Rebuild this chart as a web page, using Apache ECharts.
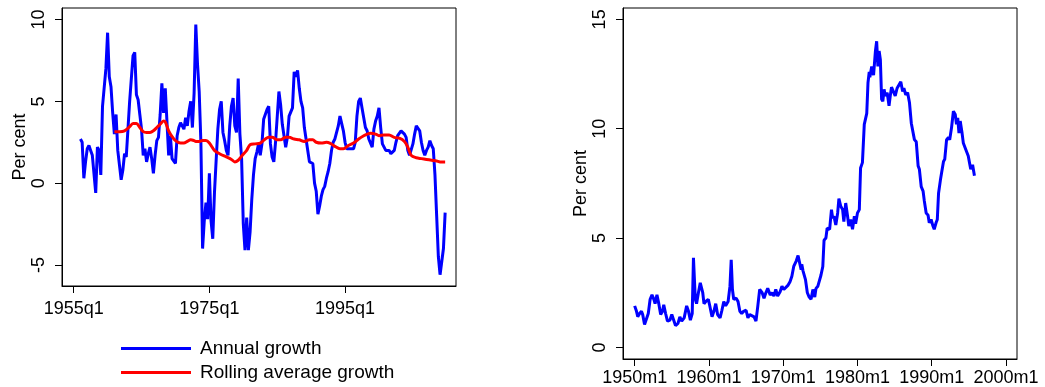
<!DOCTYPE html>
<html lang="en">
<head>
    <title>Growth and rates</title>
    <meta charset="utf-8" />
    <script src="https://cdn.jsdelivr.net/npm/echarts@6/dist/echarts.min.js"></script>
    <style>
        body {
            margin: 0;
            background-color: #ffffff;
        }

        #main {
            width: 1045px;
            height: 387px;
        }
    </style>
</head>
<body>
<div id="main"></div>
<script type="text/javascript">
    // left panel: annual growth, quarterly from 1956q1
    let growthStart = 1956
    let growthValues = [
        2.7, 2.5, 0.3, 1.3, 2.1, 2.3, 2.0, 1.7, 1.7, -0.6,
        2.2, 2.0, 0.5, 4.7, 4.7, 7.0, 9.2, 6.5, 5.9, 4.3,
        3.0, 4.2, 2.0, 1.1, 0.2, 0.8, 1.8, 1.6, 1.6, 5.0,
        5.1, 7.8, 8.0, 5.4, 5.1, 4.2, 3.3, 1.7, 2.1, 1.3,
        1.8, 2.2, 1.5, 0.6, 1.7, 2.6, 2.8, 4.2, 6.1, 4.3,
        5.8, 5.7, 1.7, 2.9, 1.5, 1.5, 1.2, 2.9, 3.4, 3.7,
        3.8, 3.3, 4.0, 3.5, 4.4, 5.0, 3.4, 5.5, 9.7, 7.3,
        5.6, 2.5, -4.0, -2.3, -1.2, -2.2, 0.6, -2.3, -3.4, -0.6,
        1.4, 3.3, 4.5, 5.0, 3.1, 2.6, 2.0, 1.7, 3.5, 4.7,
        5.2, 3.5, 3.1, 6.4, 3.0, 1.5, -2.5, -4.1, -2.1, -4.1,
        -3.0, -1.0, 0.5, 1.5, 1.9, 2.4, 1.7, 2.4, 3.9, 3.9,
        4.5, 4.7, 2.4, 1.6, 1.3, 2.5, 2.6, 5.6, 4.8, 3.6,
        3.5, 2.2, 2.8, 4.1, 4.1, 4.6, 6.8, 6.5, 6.9, 5.8,
        5.0, 4.6, 3.4, 3.3, 2.0, 1.3, 1.4, 1.2, 0.0, -0.5,
        -1.9, -1.4, -0.8, -0.4, -0.2, 0.3, 0.7, 1.2, 2.0, 2.5,
        2.7, 2.8, 3.5, 4.1, 4.0, 3.2, 2.5, 2.1, 2.0, 2.1,
        2.0, 2.1, 2.5, 4.1, 5.0, 5.2, 4.6, 4.0, 3.4, 3.2,
        2.7, 2.6, 2.2, 3.3, 3.8, 4.1, 4.6, 3.4, 2.4, 2.2,
        2.0, 2.0, 2.0, 1.8, 1.8, 2.0, 2.5, 2.9, 3.0, 3.2,
        3.1, 3.0, 2.8, 2.0, 1.7, 1.7, 2.4, 3.0, 3.5, 3.6,
        3.2, 2.5, 2.0, 1.7, 2.0, 2.2, 2.6, 2.3, 2.1, 0.5,
        -2.0, -4.5, -5.6, -5.5, -4.0, -1.8
    ]

    // left panel: rolling average growth
    let rollDates = [
        1961.0, 1961.75, 1962.5, 1963.25, 1963.75, 1964.25, 1964.75, 1965.25, 1965.75, 1966.25,
        1966.75, 1967.25, 1967.75, 1968.25, 1968.5, 1969.0, 1969.5, 1970.0, 1970.75, 1971.25,
        1971.75, 1972.25, 1972.75, 1973.0, 1973.5, 1974.0, 1974.5, 1975.0, 1975.75, 1976.5,
        1977.5, 1978.25, 1978.75, 1979.25, 1979.75, 1980.5, 1981.0, 1981.75, 1982.5, 1983.25,
        1983.75, 1984.25, 1985.0, 1985.5, 1986.25, 1986.75, 1987.5, 1988.25, 1989.0, 1989.75,
        1990.25, 1990.75, 1991.5, 1992.25, 1992.75, 1993.5, 1994.25, 1994.75, 1995.5, 1996.25,
        1997.0, 1997.75, 1998.25, 1998.75, 1999.5, 2000.0, 2000.75, 2001.5, 2002.25, 2003.0,
        2003.75, 2004.25, 2004.75, 2005.5, 2006.25, 2007.0, 2007.75, 2008.5, 2009.0, 2009.75
    ]
    let rollValues = [
        3.15, 3.15, 3.2, 3.45, 3.65, 3.65, 3.4, 3.15, 3.1, 3.1,
        3.2, 3.4, 3.6, 3.8, 3.75, 3.2, 2.85, 2.6, 2.45, 2.45,
        2.55, 2.65, 2.6, 2.55, 2.55, 2.6, 2.6, 2.45, 2.0, 1.8,
        1.6, 1.45, 1.3, 1.4, 1.65, 2.0, 2.35, 2.4, 2.45, 2.7,
        2.8, 2.8, 2.65, 2.65, 2.8, 2.8, 2.7, 2.65, 2.55, 2.65,
        2.65, 2.5, 2.45, 2.5, 2.45, 2.25, 2.1, 2.1, 2.3, 2.45,
        2.7, 2.9, 3.0, 3.05, 3.0, 2.9, 2.95, 2.95, 2.8, 2.75,
        2.55, 2.2, 1.7, 1.55, 1.5, 1.45, 1.4, 1.35, 1.3, 1.3
    ]

    // right panel: monthly series, months counted from 1950m1
    let rateMonths = [
        0, 3, 5, 8, 11, 13, 16, 19, 22, 25,
        28, 31, 33, 36, 39, 42, 45, 47, 50, 53,
        57, 60, 63, 66, 70, 73, 76, 80, 84, 87,
        90, 93, 95, 98, 100, 103, 106, 110, 112, 115,
        119, 121, 125, 128, 131, 134, 138, 141, 144, 147,
        151, 154, 156, 158, 160, 164, 167, 170, 173, 176,
        180, 183, 186, 189, 193, 196, 199, 202, 206, 209,
        212, 215, 219, 222, 225, 228, 231, 235, 238, 241,
        244, 248, 251, 254, 257, 261, 264, 267, 269, 270,
        272, 276, 279, 282, 285, 288, 291, 293, 296, 298,
        301, 304, 306, 309, 311, 315, 318, 320, 322, 325,
        328, 330, 333, 336, 338, 341, 344, 346, 349, 352,
        355, 357, 360, 363, 365, 368, 371, 375, 377, 379,
        380, 383, 386, 389, 391, 393, 395, 397, 399, 401,
        403, 405, 408, 411, 413, 415, 418, 421, 424, 427,
        430, 433, 435, 438, 441, 444, 447, 449, 452, 455,
        458, 460, 463, 466, 468, 471, 474, 476, 479, 482,
        484, 487, 489, 491, 494, 496, 499, 501, 504, 507,
        509, 512, 514, 515, 518, 520, 522, 524, 526, 529,
        531, 534, 537, 539, 541, 543, 546, 549
    ]
    let rateValues = [
        1.9, 1.65, 1.4, 1.55, 1.65, 1.5, 1.05, 1.1, 1.55, 2.2,
        2.4, 2.2, 2.0, 2.4, 2.0, 1.5, 1.65, 1.95, 1.55, 1.2,
        1.25, 1.5, 1.25, 1.0, 1.1, 1.4, 1.2, 1.35, 1.9, 1.65,
        1.25, 1.55, 4.1, 2.2, 2.0, 2.5, 2.95, 2.5, 2.0, 2.1,
        2.2, 1.95, 1.4, 1.65, 2.0, 1.5, 1.35, 1.7, 2.1, 1.9,
        2.1, 2.8, 4.0, 2.65, 2.2, 2.25, 2.1, 1.65, 1.55, 1.65,
        1.7, 1.35, 1.5, 1.55, 1.4, 1.2, 1.9, 2.65, 2.5, 2.25,
        2.5, 2.7, 2.4, 2.5, 2.35, 2.65, 2.35, 2.55, 2.8, 2.65,
        2.7, 2.85, 3.0, 3.25, 3.7, 3.95, 4.2, 4.2, 3.55, 3.8,
        3.5, 3.1, 2.5, 2.3, 2.2, 2.65, 2.3, 2.7, 2.8, 2.85,
        3.3, 3.7, 4.9, 5.0, 5.45, 5.4, 6.3, 5.9, 6.0, 5.6,
        6.15, 6.8, 6.45, 6.3, 5.75, 6.6, 6.0, 5.55, 5.85, 5.4,
        6.0, 5.65, 6.15, 6.3, 8.2, 8.45, 10.2, 10.7, 12.1, 12.6,
        12.35, 12.85, 12.45, 13.55, 14.0, 12.85, 13.55, 13.15, 11.35, 11.25,
        11.8, 11.5, 11.65, 11.05, 11.5, 11.9, 11.9, 11.5, 11.85, 11.8,
        12.15, 11.7, 11.85, 11.55, 11.65, 11.2, 10.25, 10.2, 9.5, 9.4,
        8.3, 8.15, 7.35, 7.15, 6.7, 6.15, 6.05, 5.7, 5.85, 5.55,
        5.4, 5.7, 5.85, 7.05, 7.65, 8.0, 8.5, 8.6, 9.5, 9.6,
        9.5, 10.05, 10.1, 10.8, 10.65, 10.2, 10.5, 9.8, 10.35, 9.8,
        9.35, 9.35, 8.9, 8.75, 8.45, 8.15, 8.35, 7.85
    ]

    // tick labels
    let leftXTicks = [1955, 1975, 1995]
    let leftYTicks = [-5, 0, 5, 10]
    let rightXTicks = [1950, 1960, 1970, 1980, 1990, 2000]
    let rightYTicks = [0, 5, 10, 15]

    let fontFamily = '"Liberation Sans", Arial, sans-serif'
    let fontSize = 18
    let blue = '#0000ff'
    let red = '#ff0000'
    let ink = '#000000'

    let growthData = growthValues.map((v, i) => [growthStart + i / 4, v])
    let rollData = rollValues.map((v, i) => [rollDates[i], v])
    let rateData = rateValues.map((v, i) => [1950 + rateMonths[i] / 12, v])

    function xAxis(grid, min, max, ticks, suffix, margin) {
        return {
            type: 'value', gridIndex: grid, min: min, max: max,
            splitLine: { show: false },
            axisLine: { show: true, onZero: false, lineStyle: { color: ink, width: 1 } },
            axisTick: { show: true, length: 7, customValues: ticks, lineStyle: { color: ink } },
            axisLabel: {
                customValues: ticks, margin: margin, color: ink,
                fontFamily: fontFamily, fontSize: fontSize,
                formatter: v => v + suffix
            }
        }
    }

    function yAxis(grid, min, max, ticks, gap) {
        return {
            type: 'value', gridIndex: grid, min: min, max: max,
            name: 'Per cent', nameLocation: 'middle', nameRotate: 90, nameGap: gap,
            nameTextStyle: { color: ink, fontFamily: fontFamily, fontSize: fontSize },
            splitLine: { show: false },
            axisLine: { show: true, onZero: false, lineStyle: { color: ink, width: 1 } },
            axisTick: { show: true, length: 7, customValues: ticks, lineStyle: { color: ink } },
            axisLabel: {
                customValues: ticks, margin: 14, rotate: 90, color: ink,
                fontFamily: fontFamily, fontSize: fontSize
            }
        }
    }

    let myChart = echarts.init(document.getElementById('main'))

    myChart.setOption({
        animation: false,
        grid: [
            { left: 62, right: 589, top: 8, bottom: 101, show: true, borderColor: ink, borderWidth: 1 },
            { left: 623, right: 28, top: 8, bottom: 28, show: true, borderColor: ink, borderWidth: 1 }
        ],
        xAxis: [
            xAxis(0, 1953.28, 2011.35, leftXTicks, 'q1', 14),
            xAxis(1, 1948.43, 2001.48, rightXTicks, 'm1', 10)
        ],
        yAxis: [
            yAxis(0, -6.29, 10.71, leftYTicks, 31),
            yAxis(1, -0.53, 15.52, rightYTicks, 33)
        ],
        legend: {
            orient: 'vertical', left: 121, top: 339, padding: 0,
            icon: 'rect', itemWidth: 70, itemHeight: 3, itemGap: 5,
            textStyle: { color: ink, fontFamily: fontFamily, fontSize: 19, padding: [0, 0, 0, 4] },
            data: ['Annual growth', 'Rolling average growth']
        },
        series: [
            {
                name: 'Annual growth', type: 'line', xAxisIndex: 0, yAxisIndex: 0,
                data: growthData, symbol: 'none', color: blue,
                lineStyle: { color: blue, width: 3 }
            },
            {
                name: 'Rolling average growth', type: 'line', xAxisIndex: 0, yAxisIndex: 0,
                data: rollData, symbol: 'none', smooth: 0.3, color: red,
                lineStyle: { color: red, width: 3 }
            },
            {
                name: 'Rate', type: 'line', xAxisIndex: 1, yAxisIndex: 1,
                data: rateData, symbol: 'none', color: blue,
                lineStyle: { color: blue, width: 3 }
            }
        ]
    })
</script>
</body>
</html>
